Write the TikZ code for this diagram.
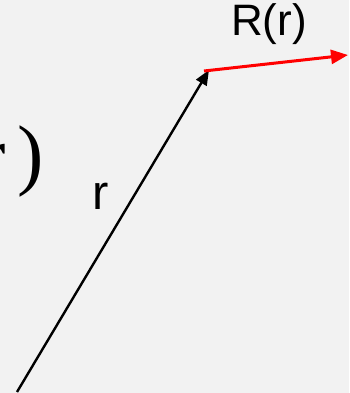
\documentclass[tikz,border=0pt]{standalone}
\usepackage{fontspec}
\setmainfont{Liberation Serif}
\newfontfamily\arialf{Liberation Sans}
\usetikzlibrary{arrows.meta}
\begin{document}
\begin{tikzpicture}[x=1pt,y=-1pt,
  lbl/.style={font=\arialf\fontsize{44}{44}\selectfont, inner sep=0pt},
  big/.style={inner sep=0pt, font=\fontsize{79}{79}\selectfont, anchor=base west}]
\useasboundingbox (0,0) rectangle (349,393);
\fill[black!5] (0,0) rectangle (349,393);
\begin{scope}
\clip (0,0) rectangle (349,393);
\node[big] (bigr) at (-21,181) {r};
\node[big] (bigp) at (17,180) {)};
\end{scope}
\coordinate (o) at (17,392);
\coordinate (p) at (209,70);
\coordinate (s) at (204,71);
\coordinate (q) at (348,55);
\draw[line width=2.4pt,-{Triangle[length=15pt,width=12pt]}] (o) -- (p);
\draw[red,line width=3pt,-{Triangle[length=17pt,width=14pt]}] (s) -- (q);
\node[lbl, font=\arialf\fontsize{49}{49}\selectfont] (rl) at (101,196) {r};
\node[lbl] (Rl) at (269,24) {R(r)};
\end{tikzpicture}
\end{document}
